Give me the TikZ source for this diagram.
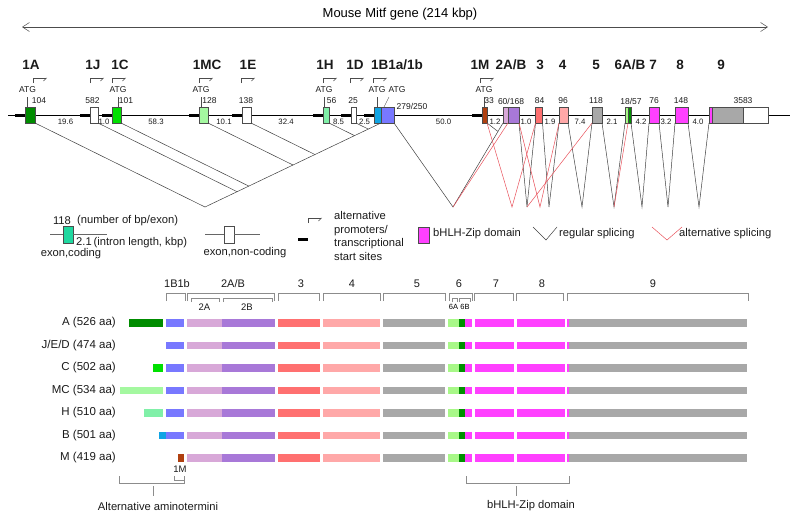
\documentclass[tikz,border=0pt]{standalone}
\usepackage{fontspec}
\setmainfont{Liberation Sans}
\usepackage{xcolor}
\usepackage{tikz}
\usetikzlibrary{arrows.meta}
\definecolor{INK}{HTML}{1A1A1A}
\definecolor{GRID}{HTML}{8C8C8C}
\definecolor{SPL}{HTML}{404040}
\definecolor{ALT}{HTML}{E8505A}
\definecolor{exA}{HTML}{008C00}
\definecolor{exC}{HTML}{00E000}
\definecolor{exMC}{HTML}{A4F8A0}
\definecolor{exH}{HTML}{80F0A8}
\definecolor{exBa}{HTML}{10A4E4}
\definecolor{exBb}{HTML}{7878FF}
\definecolor{exM}{HTML}{B04010}
\definecolor{exTwoA}{HTML}{D8A8D8}
\definecolor{exTwoB}{HTML}{A878D8}
\definecolor{exThree}{HTML}{FF7070}
\definecolor{exFour}{HTML}{FFA8A8}
\definecolor{exGray}{HTML}{A8A8A8}
\definecolor{exSixA}{HTML}{A8F888}
\definecolor{exSixB}{HTML}{009000}
\definecolor{ZIP}{HTML}{FF40FF}
\definecolor{LEG}{HTML}{20D8A0}

\begin{document}
\begin{tikzpicture}[
    x=1pt, y=-1pt,
    exon/.style={draw=black!70, line width=0.4pt, minimum height=16, inner sep=0, outer sep=0},
    tss/.style={line width=3pt, black},
    promo/.style={line width=0.5pt, black!70, -{Straight Barb[harpoon, swap, length=3pt, width=6pt]}},
    splice/.style={SPL, line width=0.5pt},
    altsplice/.style={ALT, line width=0.5pt},
    brk/.style={GRID, line width=0.6pt},
    exlab/.style={font=\fontsize{13.5}{15}\selectfont\bfseries, inner sep=0, text=INK},
    num/.style={font=\fontsize{8.5}{10}\selectfont, inner sep=0, text=INK},
    intr/.style={font=\fontsize{7.8}{9}\selectfont, inner sep=0, text=INK},
    leg/.style={font=\fontsize{11.2}{13.4}\selectfont, inner sep=0, text=INK},
    rowlab/.style={font=\fontsize{11.5}{13}\selectfont, inner sep=0, anchor=east, text=INK},
    colhead/.style={font=\fontsize{11}{13}\selectfont, inner sep=0, text=INK},
    sublab/.style={font=\fontsize{9.5}{11}\selectfont, inner sep=0, text=INK},
  ]
  \useasboundingbox (0,0) rectangle (800,520);

  % gene span
  \node[font=\fontsize{13}{15}\selectfont, inner sep=0] (title) at (400,14) {Mouse Mitf gene (214 kbp)};
  \coordinate (spanL) at (22,27);
  \coordinate (spanR) at (768,27);
  \draw[{Straight Barb[length=7pt, width=9pt]}-{Straight Barb[length=7pt, width=9pt]}, black!70, line width=0.5pt] (spanL) -- (spanR);

  % gene line
  \coordinate (geneL) at (8,115);
  \coordinate (geneR) at (790,115);
  \draw[black, line width=0.6pt] (geneL) -- (geneR);

  % exons
  \node[exon, fill=exA,     minimum width=10] (x1A)  at (30,115)    {};
  \node[exon, fill=white,   minimum width=8]  (x1J)  at (94,115)    {};
  \node[exon, fill=exC,     minimum width=9]  (x1C)  at (116.5,115) {};
  \node[exon, fill=exMC,    minimum width=9]  (x1MC) at (203.5,115) {};
  \node[exon, fill=white,   minimum width=9]  (x1E)  at (246.5,115) {};
  \node[exon, fill=exH,     minimum width=6]  (x1H)  at (326,115)   {};
  \node[exon, fill=white,   minimum width=5]  (x1D)  at (353.5,115) {};
  \node[exon, fill=exBa,    minimum width=7]  (x1Ba) at (377.5,115) {};
  \node[exon, fill=exBb,    minimum width=13] (x1Bb) at (387.5,115) {};
  \node[exon, fill=exM,     minimum width=5]  (x1M)  at (484.5,115) {};
  \node[exon, fill=exTwoA,  minimum width=5]  (x2A)  at (505.5,115) {};
  \node[exon, fill=exTwoB,  minimum width=11] (x2B)  at (513.5,115) {};
  \node[exon, fill=exThree, minimum width=7]  (x3)   at (539,115)   {};
  \node[exon, fill=exFour,  minimum width=9]  (x4)   at (563.5,115) {};
  \node[exon, fill=exGray,  minimum width=10] (x5)   at (597,115)   {};
  \node[exon, fill=exSixA,  minimum width=3]  (x6A)  at (626.5,115) {};
  \node[exon, fill=exSixB,  minimum width=3]  (x6B)  at (629.5,115) {};
  \node[exon, fill=ZIP,     minimum width=10] (x7)   at (654,115)   {};
  \node[exon, fill=ZIP,     minimum width=13] (x8)   at (681.5,115) {};
  \node[exon, fill=ZIP,     minimum width=3]  (x9a)  at (710.5,115) {};
  \node[exon, fill=exGray,  minimum width=31] (x9b)  at (727.5,115) {};
  \node[exon, fill=white,   minimum width=25] (x9c)  at (755.5,115) {};

  % start sites and promoters
  \foreach \n in {1A,1J,1C,1MC,1E,1H,1D,1Ba,1M}
    \draw[tss] (x\n.west) -- ++(-10.5,0);
  \foreach \n/\x in {1A/33, 1J/90, 1C/112, 1MC/199, 1E/241, 1H/323, 1D/350, 1B/373, 1M/480}{
    \coordinate (p\n) at (\x,83);
    \draw[promo] (p\n) -- ++(0,-5) -- ++(14,0);
  }

  % exon names
  \foreach \txt/\x [count=\idx] in {1A/31, 1J/93, 1C/120, 1MC/207, 1E/248, 1H/325, 1D/355, {1B1a/1b}/397, 1M/480, {2A/B}/511, 3/540, 4/562.5, 5/596, {6A/B}/630, 7/653, 8/680, 9/721}
    \node[exlab] (ex\idx) at (\x,65) {\txt};

  % ATG
  \foreach \n/\x in {1A/27.5, 1C/118, 1MC/201, 1H/324, 1Ba/377, 1M/484}{
    \node[num] (atg\n) at (\x,90) {ATG};
    \draw[black!70, line width=0.4pt] (atg\n.south |- 0,97) -- (atg\n.south |- x\n.north);
  }
  \node[num] (atg1Bb) at (397,90) {ATG};
  \draw[black!70, line width=0.4pt] ([xshift=3]x1Bb.north west) -- (389,97);

  % bp per exon
  \foreach \txt/\x [count=\idx] in {104/39, 582/92.5, 101/126, 128/209.5, 138/246, 56/331.5, 25/353, 33/489, {60/168}/511, 84/539.5, 96/563, 118/596, {18/57}/631, 76/654, 148/681, 3583/743}
    \node[num] (bp\idx) at (\x,101) {\txt};
  \node[num] (bp1B) at (412,106) {279/250};

  % intron lengths
  \foreach \txt/\x [count=\idx] in {19.6/65.5, 1.0/104, 58.3/156, 10.1/224, 32.4/286, 8.5/338.5, 2.5/364.5, 50.0/443.5, 1.2/495, 1.0/526, 1.9/550, 7.4/580, 2.1/612, 4.2/641, 3.2/666, 4.0/698}
    \node[intr] (kb\idx) at (\x,122) {\txt};

  % splicing of first exons
  \coordinate (v0) at (205,207);
  \draw[splice] (x1A.south east) -- (v0) -- (x1Bb.south west);
  \foreach \n/\x/\y in {1J/237.1/191.7, 1C/248.8/186.1, 1MC/293/165, 1E/314.9/154.5, 1H/354.5/135.6, 1D/368.3/129.1}{
    \coordinate (m\n) at (\x,\y);
    \draw[splice] (x\n.south east) -- (m\n);
  }

  % splicing to exon 2 and onwards
  \coordinate (v1) at (453,207);
  \coordinate (jM) at (498,131.5);
  \draw[splice] (x1Bb.south east) -- (v1) -- (x2A.south west);
  \draw[splice] (x1M.south east) -- (jM);
  \foreach \xa/\xb/\x in {2B/3/527, 3/4/549, 4/5/582, 5/6A/614, 6B/7/642, 7/8/668, 8/9a/699}{
    \coordinate (v\xa) at (\x,207);
    \draw[splice] (x\xa.south east) -- (v\xa) -- (x\xb.south west);
  }
  \coordinate (v2) at (512,207);
  \coordinate (v3r) at (540,207);
  \draw[altsplice] (v1) -- (x2B.south west);
  \draw[altsplice] (x1M.south east) -- (v2) -- (x3.south west);
  \draw[altsplice] (x2B.south east) -- (v3r) -- (x4.south west);
  \draw[altsplice] (v2B) -- (x5.south west);
  \draw[altsplice] (v5) -- (x6B.south west);

  % legend
  \node[exon, fill=LEG, minimum width=10, minimum height=17] (lgC) at (68,234.5) {};
  \draw[black!60, line width=0.5pt] (lgC.west) -- ++(-13,0);
  \draw[black!60, line width=0.5pt] (lgC.east) -- ++(34,0);
  \node[leg] (lg118) at (62,221) {118};
  \node[leg, anchor=west] (lgbp) at (77,221) {(number of bp/exon)};
  \node[leg, anchor=west] (lgkb) at (76,243) {2.1\,(intron length, kbp)};
  \node[leg] (lgClab) at (71,254) {exon,coding};

  \node[exon, fill=white, minimum width=10, minimum height=17] (lgN) at (229,234.5) {};
  \draw[black!60, line width=0.5pt] (lgN.west) -- ++(-19,0);
  \draw[black!60, line width=0.5pt] (lgN.east) -- ++(26,0);
  \node[leg] (lgNlab) at (245,253) {exon,non-coding};

  \coordinate (lgT) at (298,239);
  \draw[tss] (lgT) -- ++(10,0);
  \coordinate (lgP) at (308,223);
  \draw[promo] (lgP) -- ++(0,-5) -- ++(14,0);
  \node[leg, anchor=west, align=left] (lgPlab) at (334,236) {alternative\\promoters/\\transcriptional\\start sites};

  \node[exon, fill=ZIP, minimum width=11, minimum height=16] (lgZ) at (423.5,235) {};
  \node[leg, anchor=west] (lgZlab) at (433,234) {bHLH-Zip domain};

  \coordinate (rgA) at (533,227);
  \coordinate (rgB) at (546,240);
  \coordinate (rgC) at (557,227);
  \draw[splice] (rgA) -- (rgB) -- (rgC);
  \node[leg, anchor=west] (lgRlab) at (559,234) {regular splicing};
  \coordinate (alA) at (652,227);
  \coordinate (alB) at (667,240);
  \coordinate (alC) at (682,227);
  \draw[altsplice] (alA) -- (alB) -- (alC);
  \node[leg, anchor=west] (lgAlab) at (679,234) {alternative splicing};

  % exon brackets over isoforms
  \foreach \xa/\xb/\txt/\x [count=\idx] in {166/185/1B1b/177, 187/274/{2A/B}/233, 278/319/3/301, 323/380/4/352, 383/445/5/417, 449/472/6/459, 474/513/7/496, 516/563/8/542, 567/748/9/653}{
    \draw[brk] (\xa,301) -- (\xa,293) -- (\xb,293) -- (\xb,301);
    \node[colhead] (hd\idx) at (\x,284) {\txt};
  }
  \foreach \xa/\xb in {191/219, 223/272, 452/457, 459/470}
    \draw[brk] (\xa,302) -- (\xa,298) -- (\xb,298) -- (\xb,302);
  \node[sublab] (hd2A) at (204.5,307) {2A};
  \node[sublab] (hd2B) at (247,307) {2B};
  \node[font=\fontsize{7.5}{9}\selectfont, inner sep=0] (hd6A) at (453.5,307) {6A};
  \node[font=\fontsize{7.5}{9}\selectfont, inner sep=0] (hd6B) at (465,307) {6B};

  % isoforms
  \foreach \txt/\y/\xa/\xb/\col [count=\idx] in {{A (526 aa)}/323/129/163/exA, {J/E/D (474 aa)}/345.5/166/166/white, {C (502 aa)}/368/153/163/exC, {MC (534 aa)}/390.5/120/163/exMC, {H (510 aa)}/413/144/163/exH, {B (501 aa)}/435.5/159/166/exBa, {M (419 aa)}/458/178/184/exM}{
    \node[rowlab] (iso\idx) at (116,\y) {\txt};
    \fill[\col] (\xa,\y-3.75) rectangle (\xb,\y+3.75);
    \foreach \xa/\xb/\col in {187/222/exTwoA, 222/275/exTwoB, 278/320/exThree, 323/380/exFour, 383/445/exGray, 448/459/exSixA, 459/465/exSixB, 465/472/ZIP, 475/514/ZIP, 517/565/ZIP, 567/569/ZIP, 569/747/exGray}
      \fill[\col] (\xa,\y-3.75) rectangle (\xb,\y+3.75);
  }
  \foreach \y in {323,345.5,368,390.5,413,435.5}
    \fill[exBb] (166,\y-3.75) rectangle (184,\y+3.75);

  % aminotermini and bHLH-Zip
  \draw[brk] (119,476) -- (119,483) -- (184,483) -- (184,476);
  \draw[brk] (174,476) -- (174,480) -- (184,480);
  \draw[brk] (153,486) -- (153,496);
  \node[sublab] (lab1M) at (180,469) {1M};
  \node[leg] (aminoLab) at (158,506) {Alternative aminotermini};
  \draw[brk] (466,476) -- (466,483) -- (569,483) -- (569,476);
  \draw[brk] (516,486) -- (516,496);
  \node[leg] (zipLab) at (531,506) {bHLH-Zip domain};

\end{tikzpicture}
\end{document}
